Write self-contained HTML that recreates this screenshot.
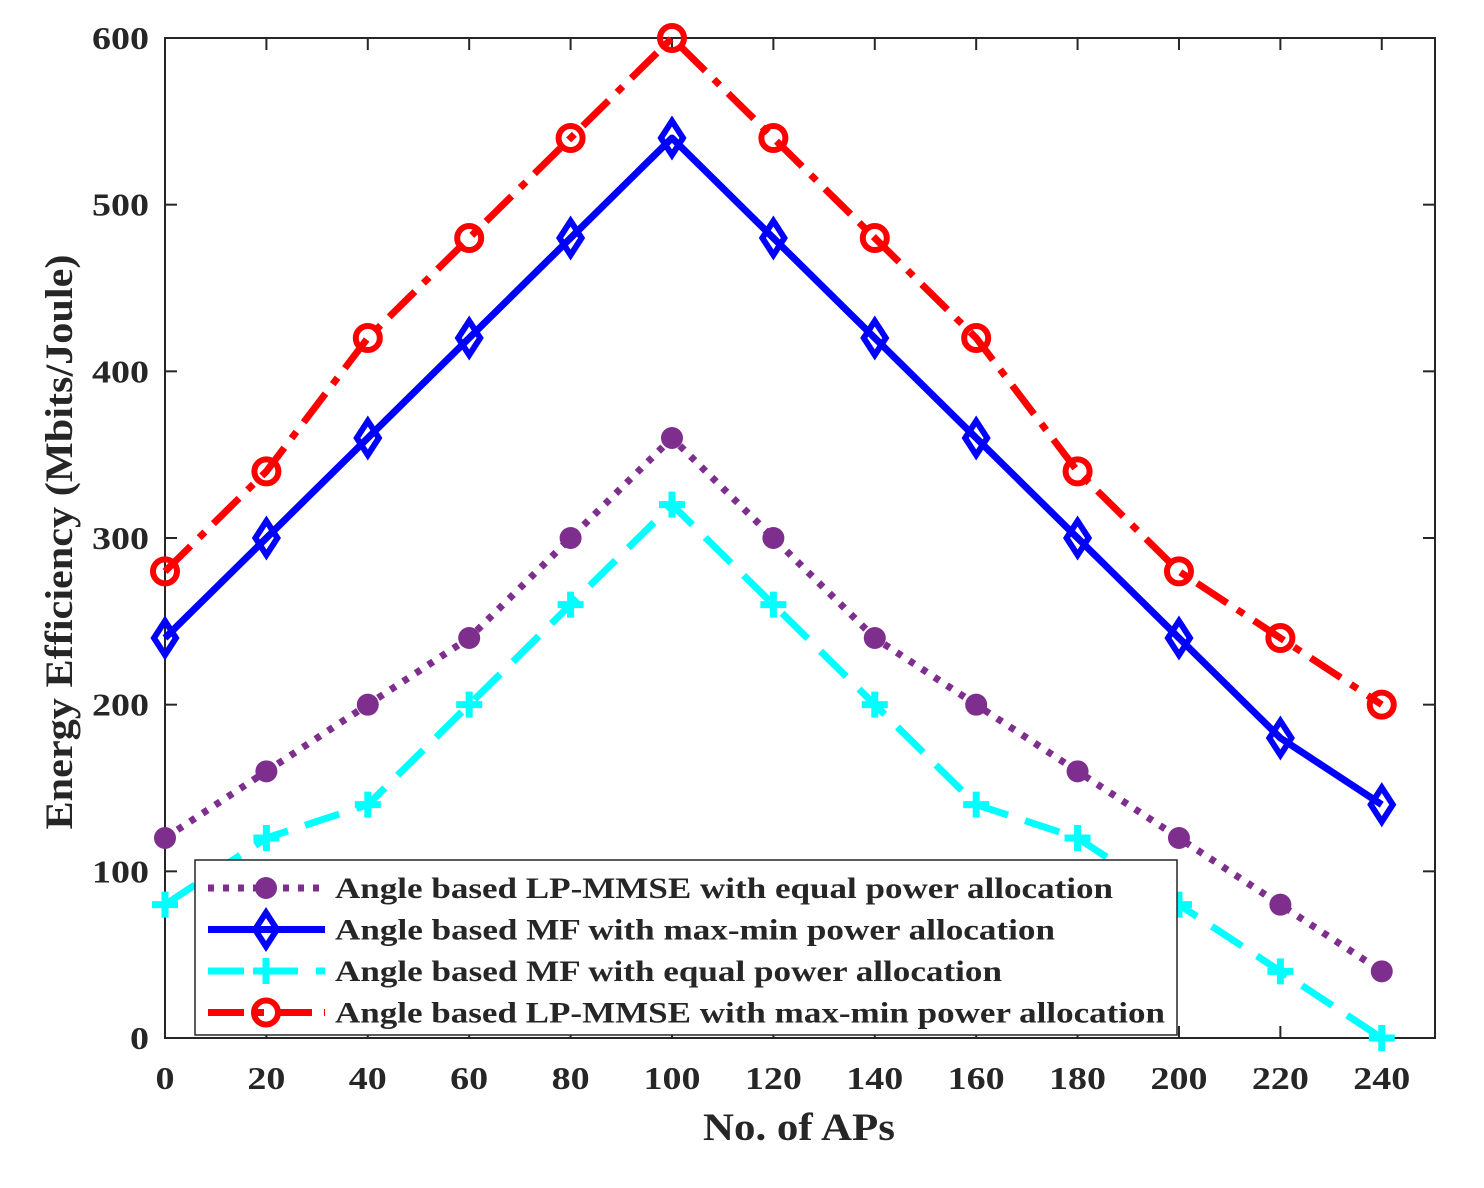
<!DOCTYPE html>
<html><head><meta charset="utf-8"><style>
html,body{margin:0;padding:0;background:#fff;}
svg text{font-family:"Liberation Serif",serif;font-weight:bold;fill:#262626;}
</style></head><body>
<svg id="chart" width="1484" height="1183" xmlns="http://www.w3.org/2000/svg">
<rect x="0" y="0" width="1484" height="1183" fill="#fff"/>
<g id="grid"></g><g id="series"></g><g id="legend"></g>
</svg>
<script>
const xValues=[0,20,40,60,80,100,120,140,160,180,200,220,240];
const lpmmseEqual=[120,160,200,240,300,360,300,240,200,160,120,80,40];
const mfMaxMin=[240,300,360,420,480,540,480,420,360,300,240,180,140];
const mfEqual=[80,120,140,200,260,320,260,200,140,120,80,40,0];
const lpmmseMaxMin=[280,340,420,480,540,600,540,480,420,340,280,240,200];
const xTicks=[0,20,40,60,80,100,120,140,160,180,200,220,240];
const yTicks=[0,100,200,300,400,500,600];
const legendLabels=["Angle based LP-MMSE with equal power allocation","Angle based MF with max-min power allocation","Angle based MF with equal power allocation","Angle based LP-MMSE with max-min power allocation"];

const L=165,R=1435,T=38,B=1038,XMAX=250.5,YMAX=600;
const sx=v=>L+(R-L)*v/XMAX, sy=v=>B-(B-T)*v/YMAX;
const NS="http://www.w3.org/2000/svg";
function mk(tag,attrs,parent){const e=document.createElementNS(NS,tag);for(const k in attrs)e.setAttribute(k,attrs[k]);parent.appendChild(e);return e;}
const grid=document.getElementById('grid'),ser=document.getElementById('series'),leg=document.getElementById('legend');

const frame=mk('rect',{x:L,y:T,width:R-L,height:B-T,fill:'none',stroke:'#262626','stroke-width':2},grid);


xTicks.forEach(v=>{
  const x=sx(v);
  mk('line',{x1:x,y1:B,x2:x,y2:B-12,stroke:'#262626','stroke-width':2},grid);
  mk('line',{x1:x,y1:T,x2:x,y2:T+12,stroke:'#262626','stroke-width':2},grid);
  const n=String(v).length;
  const t=mk('text',{x:x,y:B+51,'text-anchor':'middle','font-size':32,textLength:n*19,lengthAdjust:'spacingAndGlyphs'},grid);t.textContent=v;
  
  
});
yTicks.forEach(v=>{
  const y=sy(v);
  mk('line',{x1:L,y1:y,x2:L+12,y2:y,stroke:'#262626','stroke-width':2},grid);
  mk('line',{x1:R,y1:y,x2:R-12,y2:y,stroke:'#262626','stroke-width':2},grid);
  const n=String(v).length;
  const t=mk('text',{x:L-16,y:y+11,'text-anchor':'end','font-size':32,textLength:n*19,lengthAdjust:'spacingAndGlyphs'},grid);t.textContent=v;
  
  
});
const xt=mk('text',{x:799,y:1140,'text-anchor':'middle','font-size':39,textLength:192,lengthAdjust:'spacingAndGlyphs'},grid);xt.textContent='No. of APs';


const yt=mk('text',{x:0,y:0,'text-anchor':'middle','font-size':39,textLength:575,lengthAdjust:'spacingAndGlyphs',transform:'translate(72,542) rotate(-90)'},grid);yt.textContent='Energy Efficiency (Mbits/Joule)';



const styles=[
 {data:lpmmseEqual,color:'#7E2F8E',dash:'6 9',marker:'dot',name:'lpmmse-equal'},
 {data:mfMaxMin,color:'#0000FF',dash:'none',marker:'diamond',name:'mf-maxmin'},
 {data:mfEqual,color:'#00FFFF',dash:'36 18',marker:'plus',name:'mf-equal'},
 {data:lpmmseMaxMin,color:'#FF0000',dash:'36 12 8 12',marker:'circle',name:'lpmmse-maxmin'}
];
function marker(kind,x,y,c,p){
  let e;
  if(kind==='dot')e=mk('circle',{cx:x,cy:y,r:11,fill:c},p);
  else if(kind==='circle')e=mk('circle',{cx:x,cy:y,r:12,fill:'none',stroke:c,'stroke-width':6},p);
  else if(kind==='diamond')e=mk('polygon',{points:`${x},${y-17} ${x+11},${y} ${x},${y+17} ${x-11},${y}`,fill:'none',stroke:c,'stroke-width':6},p);
  else e=mk('path',{d:`M${x-13},${y}H${x+13}M${x},${y-13}V${y+13}`,stroke:c,'stroke-width':7,fill:'none'},p);
  return e;
}
styles.forEach(s=>{
  const g=mk('g',{},ser);
  
  
  const pts=s.data.map((v,i)=>sx(xValues[i])+','+sy(v)).join(' ');
  const pl=mk('polyline',{points:pts,fill:'none',stroke:s.color,'stroke-width':7,'stroke-dasharray':s.dash,'stroke-linejoin':'round'},g);
  
  
  s.data.forEach((v,i)=>{
    const m=marker(s.marker,sx(xValues[i]),sy(v),s.color,g);
    
    
  });
});
const lb=mk('rect',{x:195,y:860,width:982,height:175,fill:'#fff',stroke:'#262626','stroke-width':1.5},leg);


const legendWidths=[778,720,667,830];
styles.forEach((s,i)=>{
  const y=888+i*41.5;
  const g=mk('g',{},leg);
  
  
  mk('line',{x1:208,y1:y,x2:325,y2:y,stroke:s.color,'stroke-width':7,'stroke-dasharray':s.dash},g);
  marker(s.marker,266,y,s.color,g);
  const t=mk('text',{x:335,y:y+10,'font-size':30,textLength:legendWidths[i],lengthAdjust:'spacingAndGlyphs'},g);t.textContent=legendLabels[i];
});
</script>
</body></html>
